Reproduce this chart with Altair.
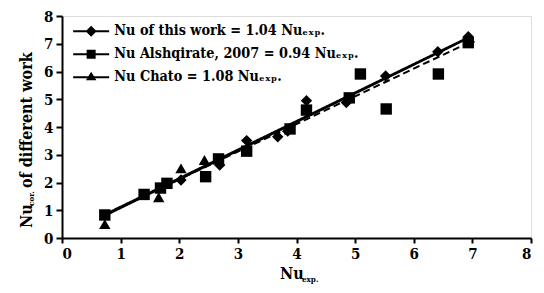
import altair as alt
import pandas as pd

# ---- data ----
series_names = [
    "Nu of this work = 1.04 Nuₑₓₚ.",
    "Nu Alshqirate, 2007 = 0.94 Nuₑₓₚ.",
    "Nu Chato = 1.08 Nuₑₓₚ.",
]

this_x = [2.03, 2.69, 3.15, 3.68, 3.85, 4.17, 4.85, 5.52, 6.41, 6.93]
this_y = [2.09, 2.63, 3.51, 3.65, 3.85, 4.95, 4.88, 5.84, 6.71, 7.25]

alsh_x = [0.73, 1.40, 1.68, 1.79, 2.45, 2.67, 3.15, 3.89, 4.17, 4.90, 5.09, 5.53, 6.42, 6.93]
alsh_y = [0.83, 1.57, 1.80, 1.97, 2.21, 2.85, 3.13, 3.93, 4.61, 5.05, 5.91, 4.65, 5.91, 7.04]

chato_x = [0.73, 1.65, 2.03, 2.43, 6.95]
chato_y = [0.50, 1.47, 2.51, 2.81, 7.22]

line_x = [0.73, 6.95]
this_line_y = [0.85, 7.25]
alsh_line_y = [0.85, 7.05]
chato_line_y = [0.80, 7.22]

x_ticks = [0, 1, 2, 3, 4, 5, 6, 7, 8]
y_ticks = [0, 1, 2, 3, 4, 5, 6, 7, 8]

# ---- tables ----
pts = pd.concat([
    pd.DataFrame({"x": this_x, "y": this_y, "series": series_names[0]}),
    pd.DataFrame({"x": alsh_x, "y": alsh_y, "series": series_names[1]}),
    pd.DataFrame({"x": chato_x, "y": chato_y, "series": series_names[2]}),
])
lines = pd.concat([
    pd.DataFrame({"x": line_x, "y": this_line_y, "series": series_names[0], "dash": "solid"}),
    pd.DataFrame({"x": line_x, "y": alsh_line_y, "series": series_names[1], "dash": "dashed"}),
    pd.DataFrame({"x": line_x, "y": chato_line_y, "series": series_names[2], "dash": "solid"}),
])
leg = pd.DataFrame({"series": series_names, "x": [-1] * 3, "y": [-1] * 3})

SERIF = "DejaVu Serif Condensed, DejaVu Serif"

xscale = alt.Scale(domain=[0, 8], nice=False, zero=False)
yscale = alt.Scale(domain=[0, 8], nice=False, zero=False)

xaxis = alt.Axis(values=x_ticks, tickCount=9, title=None, grid=False, domainColor="black", domainWidth=2,
                 tickColor="black", tickWidth=2, tickSize=5, labelFont=SERIF, labelFontSize=15,
                 labelFontWeight="bold", labelColor="black", labelPadding=3, format="d",
                 labelOverlap=False)
yaxis = alt.Axis(values=y_ticks, tickCount=9, title=None, grid=False, domainColor="black", domainWidth=2,
                 tickColor="black", tickWidth=2, tickSize=6, labelFont=SERIF, labelFontSize=15,
                 labelFontWeight="bold", labelColor="black", labelPadding=3, format="d",
                 labelOverlap=False)

X = alt.X("x:Q", scale=xscale, axis=xaxis)
Y = alt.Y("y:Q", scale=yscale, axis=yaxis)

line_layer = alt.Chart(lines).mark_line(color="black", strokeWidth=2).encode(
    x=X, y=Y,
    detail="series:N",
    strokeDash=alt.StrokeDash("dash:N", scale=alt.Scale(domain=["solid", "dashed"],
                                                         range=[[1, 0], [7, 4]]), legend=None),
)

pt_layer = alt.Chart(pts).mark_point(filled=True, color="black", opacity=1, size=130).encode(
    x=X, y=Y,
    shape=alt.Shape("series:N", scale=alt.Scale(domain=series_names,
                                                range=["diamond", "square", "triangle-up"]),
                    legend=None),
)

leg_paths = [
    "M-3.6,-0.2H3.6V0.2H-3.6Z M0,-1.1L1.1,0L0,1.1L-1.1,0Z",
    "M-3.6,-0.2H3.6V0.2H-3.6Z M-0.9,-0.9H0.9V0.9H-0.9Z",
    "M-3.6,-0.2H3.6V0.2H-3.6Z M0,-1.1L1.05,0.6H-1.05Z",
]

leg_layer = alt.Chart(leg).mark_point(filled=True, color="black", opacity=1, size=100, clip=True).encode(
    x=X, y=Y,
    shape=alt.Shape("series:N", scale=alt.Scale(domain=series_names, range=leg_paths),
                    legend=alt.Legend(title=None, orient="none", legendX=22, legendY=8,
                                      labelFont=SERIF, labelFontSize=14.3, labelFontWeight="bold",
                                      labelColor="black", labelLimit=0, labelOffset=16,
                                      symbolSize=100, symbolFillColor="black",
                                      symbolStrokeWidth=0, rowPadding=8, padding=0)),
)

one = alt.Data(values=[{}])
txt = dict(font=SERIF, fontWeight="bold", color="black")
xt1 = alt.Chart(one).mark_text(text="Nu", fontSize=16, align="left", baseline="alphabetic", **txt).encode(
    x=alt.value(218), y=alt.value(263))
xt2 = alt.Chart(one).mark_text(text="exp.", fontSize=8, align="left", baseline="alphabetic", **txt).encode(
    x=alt.value(240), y=alt.value(266))
yt1 = alt.Chart(one).mark_text(text="Nu", fontSize=16, align="left", baseline="alphabetic", angle=270, **txt).encode(
    x=alt.value(-30), y=alt.value(212))
yt2 = alt.Chart(one).mark_text(text="cor.", fontSize=8, align="left", baseline="alphabetic", angle=270, **txt).encode(
    x=alt.value(-28), y=alt.value(190))
yt3 = alt.Chart(one).mark_text(text="of different work", fontSize=16, align="left", baseline="alphabetic",
                               angle=270, **txt).encode(
    x=alt.value(-30), y=alt.value(172))

chart = alt.layer(line_layer, pt_layer, leg_layer, xt1, xt2, yt1, yt2, yt3).resolve_scale(
    shape="independent"
).properties(
    width=469, height=222,
    autosize=alt.AutoSizeParams(type="none"),
    padding={"left": 54, "top": 8, "right": 5, "bottom": 55},
).configure_view(stroke=None).configure(background="white")

chart.save("out.html", embed_options={"renderer": "svg", "actions": False})
